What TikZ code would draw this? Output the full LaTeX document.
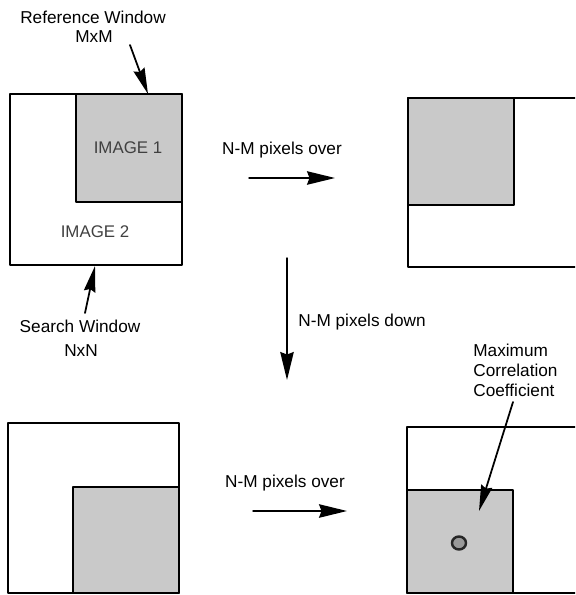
\documentclass[tikz,border=0pt]{standalone}
\usepackage{fontspec}
\setmainfont{Liberation Sans}
\usetikzlibrary{arrows.meta}
\usetikzlibrary{positioning}
\definecolor{patchgray}{RGB}{201,201,201}
\tikzset{
  win/.style={draw=black, line width=0.9pt},
  patchwin/.style={win, fill=patchgray},
  lbl/.style={font=\fontsize{9.8}{11.5}\selectfont, inner sep=0pt, anchor=base},
  imgtxt/.style={font=\fontsize{9.6}{11}\selectfont, text=black!75, inner sep=0pt, anchor=base},
  shiftarrow/.style={line width=0.85pt, -{Stealth[length=0.56cm,width=0.27cm,inset=0.05cm]}},
  pointer/.style={line width=1pt, -{Stealth[length=0.52cm,width=0.23cm,inset=0.05cm]}}
}

\begin{document}
\begin{tikzpicture}[x=0.02cm, y=-0.02cm, line cap=round, line join=round]
		\useasboundingbox (0,0) rectangle (575,595);
		\clip (0,0) rectangle (575,595);
		\draw[win] (10,94) rectangle (182,265);
		\draw[patchwin] (76,94) rectangle (182,202);
		\node[imgtxt] (img1) at (128,153) {IMAGE 1};
		\node[imgtxt] (img2) at (95,237) {IMAGE 2};
		\draw[win] (408,98) rectangle (600,267);
		\draw[patchwin] (408,98) rectangle (514,205);
		\draw[win] (8,423) rectangle (179,593);
		\draw[patchwin] (73,487) rectangle (179,593);
		\draw[win] (407,427) rectangle (600,593);
		\draw[patchwin] (407,490) rectangle (513,593);
		\draw[line width=1.4pt, draw=black!85, fill=black!40] (459,543) ellipse (7 and 6.5);
		\node[lbl] (refwin) at (93,24) {Reference Window};
		\node[lbl] (refsize) at (94,42) {MxM};
		\coordinate (reftail) at (130,45);
		\coordinate (refhead) at (148,94);
		\draw[pointer] (reftail) -- (refhead);
		\node[lbl] (srchwin) at (80,332) {Search Window};
		\node[lbl] (srchsize) at (81,356) {NxN};
		\coordinate (srchtail) at (85,313);
		\coordinate (srchhead) at (95,266);
		\draw[pointer] (srchtail) -- (srchhead);
		\node[lbl] (overtop) at (282,154) {N-M pixels over};
		\coordinate (overtopa) at (249,178);
		\coordinate (overtopb) at (335,178);
		\draw[shiftarrow] (overtopa) -- (overtopb);
		\node[lbl, anchor=base west] (down) at (298,326) {N-M pixels down};
		\coordinate (downa) at (287,258);
		\coordinate (downb) at (287,380);
		\draw[shiftarrow] (downa) -- (downb);
		\node[lbl] (overbot) at (285,487) {N-M pixels over};
		\coordinate (overbota) at (253,511);
		\coordinate (overbotb) at (347,511);
		\draw[shiftarrow] (overbota) -- (overbotb);
		\node[lbl, anchor=base west] (maxa) at (473,356) {Maximum};
		\node[lbl, anchor=base west] (maxb) at (473,376) {Correlation};
		\node[lbl, anchor=base west] (maxc) at (473,396) {Coefficient};
		\coordinate (maxtail) at (513,402);
		\coordinate (maxhead) at (479,511);
		\draw[pointer] (maxtail) -- (maxhead);
	\end{tikzpicture}
\end{document}
